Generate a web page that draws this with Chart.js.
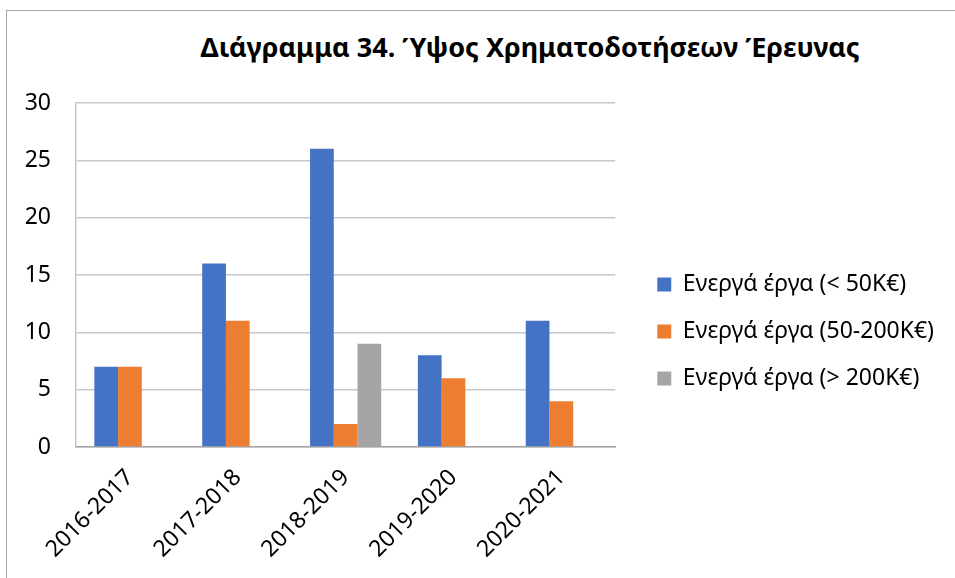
<!DOCTYPE html>
<html>
<head>
<meta charset="utf-8">
<script src="https://cdn.jsdelivr.net/npm/chart.js@4/dist/chart.umd.min.js"></script>
<style>
  html, body { margin: 0; padding: 0; background: #fff; }
  #wrap { position: relative; width: 955px; height: 578px; overflow: hidden; }
  #frame { position: absolute; left: 6px; top: 10px; width: 960px; height: 600px; border: 1px solid #a6a6a6; box-sizing: border-box; }
  #titulo { position: absolute; left: 0; top: 28px; width: 1060px; text-align: center;
            font: bold 27px "Noto Sans", sans-serif; color: #000; }
  canvas { position: absolute; left: 0; top: 0; }
</style>
</head>
<body>
<div id="wrap">
  <div id="frame"></div>
  <div id="titulo">Διάγραμμα 34. Ύψος Χρηματοδοτήσεων Έρευνας</div>
  <canvas id="grafico" width="955" height="578"></canvas>
</div>
<script>
const periodos = ["2016-2017", "2017-2018", "2018-2019", "2019-2020", "2020-2021"];
const erga50 = [7, 16, 26, 8, 11];
const erga50_200 = [7, 11, 2, 6, 4];
const erga200 = [0, 0, 9, 0, 0];
const ticksY = [0, 5, 10, 15, 20, 25, 30];

const fuente = "'Noto Sans', sans-serif";

const ctx = document.getElementById("grafico").getContext("2d");

new Chart(ctx, {
    type: "bar",
    data: {
        labels: periodos,
        datasets: [
            { label: "Ενεργά έργα (< 50K€)", data: erga50, backgroundColor: "#4472C4" },
            { label: "Ενεργά έργα (50-200K€)", data: erga50_200, backgroundColor: "#ED7D31" },
            { label: "Ενεργά έργα (> 200K€)", data: erga200, backgroundColor: "#A5A5A5" }
        ]
    },
    options: {
        responsive: false,
        animation: false,
        layout: { padding: { top: 103, left: 23, right: 11, bottom: 18 } },
        datasets: { bar: { barPercentage: 1, categoryPercentage: 0.66 } },
        plugins: {
            title: { display: false },
            tooltip: { enabled: false },
            legend: {
                position: "right",
                maxWidth: 400,
                labels: {
                    boxWidth: 14,
                    boxHeight: 14,
                    padding: 24,
                    color: "#000",
                    font: { family: fuente, size: 23 }
                }
            }
        },
        scales: {
            x: {
                grid: { display: false, drawTicks: false },
                border: { color: "#a6a6a6", width: 1.5 },
                ticks: {
                    color: "#000",
                    font: { family: fuente, size: 23 },
                    minRotation: 45,
                    maxRotation: 45,
                    padding: 17
                },
                // las etiquetas giradas no deben empujar el área del gráfico
                afterFit: axis => {
                    axis.paddingLeft = 0;
                    axis.paddingRight = 0;
                    axis.height = 113;
                }
            },
            y: {
                min: 0,
                max: 30,
                afterBuildTicks: axis => { axis.ticks = ticksY.map(v => ({ value: v })); },
                afterFit: axis => { axis.width = 53; },
                grid: { color: "#c8c8c8", lineWidth: 1.5, drawTicks: false },
                border: { color: "#c8c8c8", width: 1.5 },
                ticks: {
                    color: "#000",
                    font: { family: fuente, size: 23 },
                    padding: 25
                }
            },
            // espacio vacío entre el área del gráfico y la leyenda
            hueco: {
                type: "linear",
                position: "right",
                grid: { display: false },
                border: { display: false },
                ticks: { display: false },
                afterFit: axis => { axis.width = 18; }
            }
        }
    }
});
</script>
</body>
</html>
